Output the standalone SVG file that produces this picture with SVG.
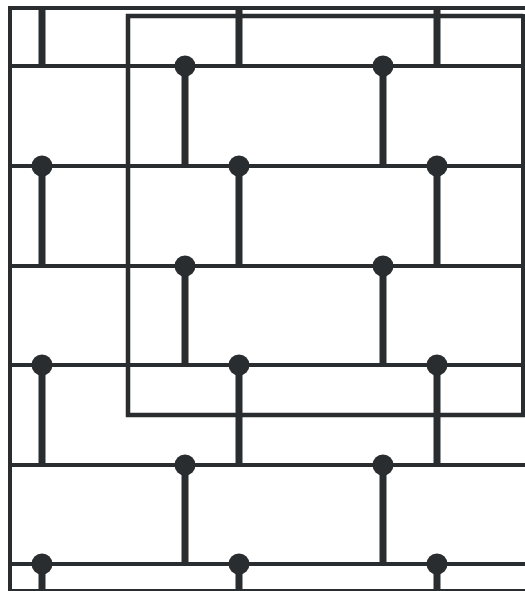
<svg xmlns="http://www.w3.org/2000/svg" width="525" height="591" viewBox="0 0 525 591">
  <style>
    .ln { stroke: #2a2d2f; stroke-width: 4; fill: none; }
    .thin { stroke: #2a2d2f; stroke-width: 2; fill: none; }
    .stem { stroke: #2a2d2f; stroke-width: 7; }
    .dot { fill: #2a2d2f; }
  </style>
  <rect x="0" y="0" width="525" height="591" fill="#ffffff"/>
  <g id="connectors">
    <line class="ln" x1="10" y1="8" x2="525" y2="8"/>
    <line class="ln" x1="10" y1="6" x2="10" y2="591"/>
    <line class="thin" x1="10" y1="590" x2="525" y2="590"/>
    <line class="ln" x1="10" y1="66" x2="525" y2="66"/>
    <line class="ln" x1="10" y1="166" x2="525" y2="166"/>
    <line class="ln" x1="10" y1="266" x2="525" y2="266"/>
    <line class="ln" x1="10" y1="365" x2="525" y2="365"/>
    <line class="ln" x1="10" y1="465" x2="525" y2="465"/>
    <line class="ln" x1="10" y1="564" x2="525" y2="564"/>
    <polyline class="ln" points="523,16 128,16 128,415 525,415" style="stroke-width:4.5"/>
    <line class="ln" x1="523" y1="14" x2="523" y2="417"/>
  </g>
  <g id="n-top-1"><line class="stem" x1="42" y1="8" x2="42" y2="66"/></g>
  <g id="n-top-2"><line class="stem" x1="239" y1="8" x2="239" y2="66"/></g>
  <g id="n-top-3"><line class="stem" x1="437" y1="8" x2="437" y2="66"/></g>

  <g id="n-r1-1"><line class="stem" x1="185" y1="66" x2="185" y2="166"/><circle class="dot" cx="185" cy="66" r="10.5"/></g>
  <g id="n-r1-2"><line class="stem" x1="383" y1="66" x2="383" y2="166"/><circle class="dot" cx="383" cy="66" r="10.5"/></g>

  <g id="n-r2-1"><line class="stem" x1="42" y1="166" x2="42" y2="266"/><circle class="dot" cx="42" cy="166" r="10.5"/></g>
  <g id="n-r2-2"><line class="stem" x1="239" y1="166" x2="239" y2="266"/><circle class="dot" cx="239" cy="166" r="10.5"/></g>
  <g id="n-r2-3"><line class="stem" x1="437" y1="166" x2="437" y2="266"/><circle class="dot" cx="437" cy="166" r="10.5"/></g>

  <g id="n-r3-1"><line class="stem" x1="185" y1="266" x2="185" y2="365"/><circle class="dot" cx="185" cy="266" r="10.5"/></g>
  <g id="n-r3-2"><line class="stem" x1="383" y1="266" x2="383" y2="365"/><circle class="dot" cx="383" cy="266" r="10.5"/></g>

  <g id="n-r4-1"><line class="stem" x1="42" y1="365" x2="42" y2="465"/><circle class="dot" cx="42" cy="365" r="10.5"/></g>
  <g id="n-r4-2"><line class="stem" x1="239" y1="365" x2="239" y2="465"/><circle class="dot" cx="239" cy="365" r="10.5"/></g>
  <g id="n-r4-3"><line class="stem" x1="437" y1="365" x2="437" y2="465"/><circle class="dot" cx="437" cy="365" r="10.5"/></g>

  <g id="n-r5-1"><line class="stem" x1="185" y1="465" x2="185" y2="564"/><circle class="dot" cx="185" cy="465" r="10.5"/></g>
  <g id="n-r5-2"><line class="stem" x1="383" y1="465" x2="383" y2="564"/><circle class="dot" cx="383" cy="465" r="10.5"/></g>

  <g id="n-r6-1"><line class="stem" x1="42" y1="564" x2="42" y2="591"/><circle class="dot" cx="42" cy="564" r="10.5"/></g>
  <g id="n-r6-2"><line class="stem" x1="239" y1="564" x2="239" y2="591"/><circle class="dot" cx="239" cy="564" r="10.5"/></g>
  <g id="n-r6-3"><line class="stem" x1="437" y1="564" x2="437" y2="591"/><circle class="dot" cx="437" cy="564" r="10.5"/></g>
</svg>
